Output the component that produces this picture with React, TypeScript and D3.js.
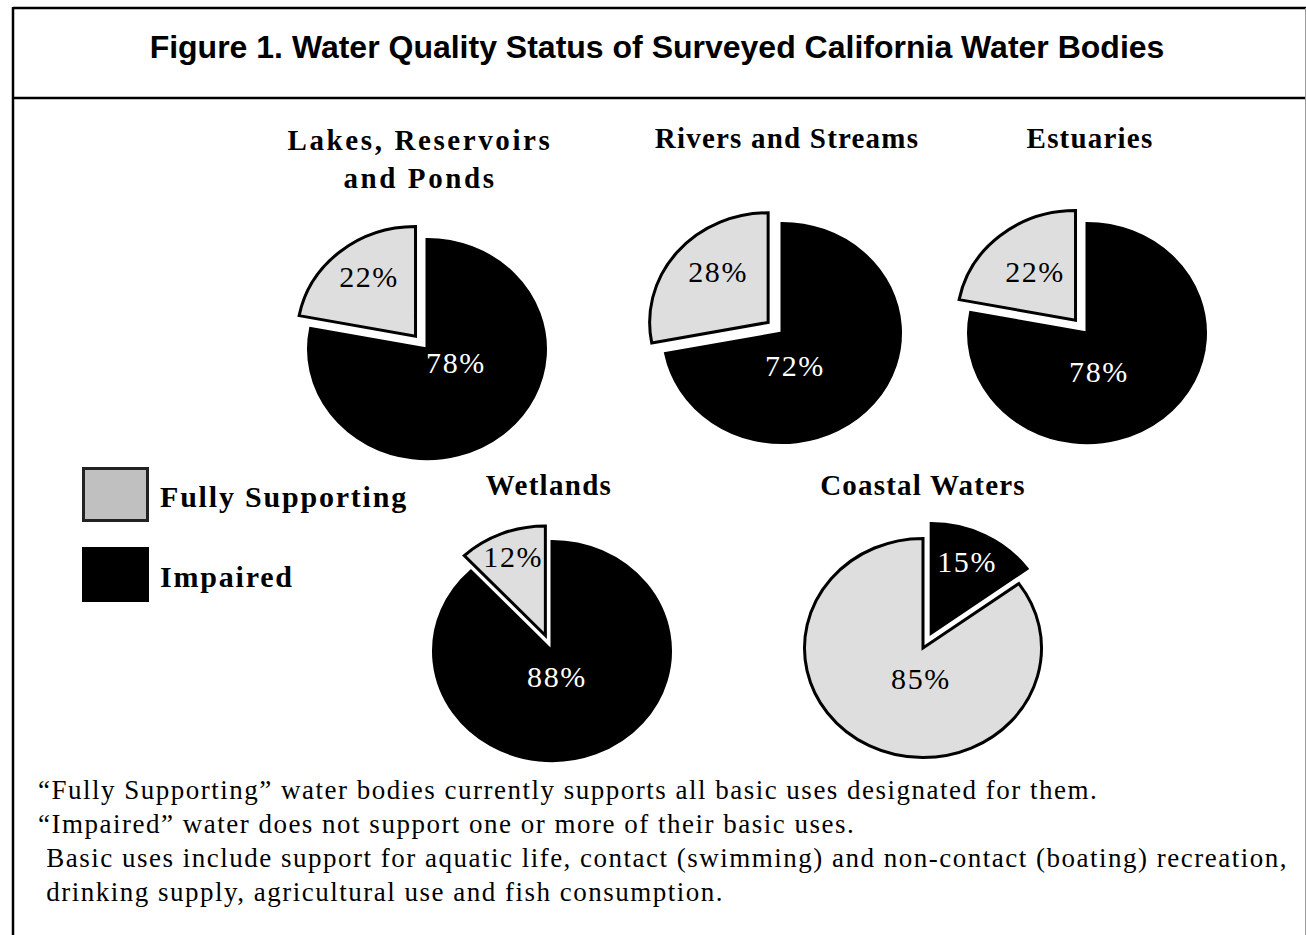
import { useEffect, useRef } from "react";
import * as d3 from "d3";

// Chart data
const bodyTitles = [
  ["Lakes, Reservoirs", "and Ponds"],
  ["Rivers and Streams"],
  ["Estuaries"],
  ["Wetlands"],
  ["Coastal Waters"],
];
const impaired = [78, 72, 78, 88, 15];
const fullySupporting = [22, 28, 22, 12, 85];
const statusNames = ["Impaired", "Fully Supporting"];
const legendOrder = ["Fully Supporting", "Impaired"];
const chartTitle = "Figure 1. Water Quality Status of Surveyed California Water Bodies";
const notes = [
  "\u201CFully Supporting\u201D water bodies currently supports all basic uses designated for them.",
  "\u201CImpaired\u201D water does not support one or more of their basic uses.",
  " Basic uses include support for aquatic life, contact (swimming) and non-contact (boating) recreation,",
  " drinking supply, agricultural use and fish consumption.",
];

// Layout (pie centres, title baselines, label nudges)
const pieLayout = [
  { cx: 427, cy: 349, titleX: 420, titleY: 150, titleLs: 2.6, bigDx: 29, bigDy: 24, smallDx: 4, smallDy: -3 },
  { cx: 782, cy: 333, titleX: 787, titleY: 148, titleLs: 1.2, bigDx: 13, bigDy: 43, smallDx: 11, smallDy: -4 },
  { cx: 1087, cy: 333, titleX: 1090, titleY: 148, titleLs: 1.2, bigDx: 12, bigDy: 49, smallDx: 10, smallDy: 8 },
  { cx: 552, cy: 651, titleX: 549, titleY: 495, titleLs: 1.3, bigDx: 5, bigDy: 36, smallDx: -3, smallDy: -10 },
  { cx: 923, cy: 648, titleX: 923, titleY: 495, titleLs: 1.2, bigDx: -2, bigDy: 41, smallDx: 0, smallDy: -6 },
];

const W = 1306;
const H = 935;
const serif = "'Liberation Serif', 'Times New Roman', serif";

export default function App() {
  const svgRef = useRef<SVGSVGElement>(null);

  useEffect(() => {
    if (!svgRef.current) return;
    const svg = d3.select(svgRef.current);
    svg.selectAll("*").remove();

    const color = d3.scaleOrdinal<string, string>()
      .domain(statusNames)
      .range(["#000000", "#dedede"]);
    const labelColor = d3.scaleOrdinal<string, string>()
      .domain(statusNames)
      .range(["#ffffff", "#000000"]);

    // Frame
    svg.append("line").attr("x1", 13).attr("x2", W).attr("y1", 8).attr("y2", 8)
      .attr("stroke", "#000").attr("stroke-width", 2.5);
    svg.append("line").attr("x1", 13).attr("x2", 13).attr("y1", 7).attr("y2", H)
      .attr("stroke", "#000").attr("stroke-width", 2.5);
    svg.append("line").attr("x1", 13).attr("x2", W).attr("y1", 98).attr("y2", 98)
      .attr("stroke", "#000").attr("stroke-width", 2.5);
    svg.append("line").attr("x1", 1305.5).attr("x2", 1305.5).attr("y1", 8).attr("y2", H)
      .attr("stroke", "#999").attr("stroke-width", 1);

    svg.append("text")
      .attr("x", 657).attr("y", 58)
      .attr("text-anchor", "middle")
      .attr("font-family", "'Liberation Sans', Arial, sans-serif")
      .attr("font-weight", "bold")
      .attr("font-size", 32)
      .text(chartTitle);

    // Pies
    const rx = 120;
    const ry = 111;
    const outerR = rx - 1.5;
    const explode = 18;
    const pie = d3.pie<{ name: string; value: number }>()
      .sort(null)
      .value(d => d.value);
    const arc = d3.arc<d3.PieArcDatum<{ name: string; value: number }>>()
      .innerRadius(0)
      .outerRadius(outerR);

    bodyTitles.forEach((lines, i) => {
      const lay = pieLayout[i];
      const data = [
        { name: statusNames[0], value: impaired[i] },
        { name: statusNames[1], value: fullySupporting[i] },
      ];
      const arcs = pie(data);
      const minVal = d3.min(data, d => d.value)!;

      // Title
      const t = svg.append("text")
        .attr("x", lay.titleX)
        .attr("y", lay.titleY)
        .attr("text-anchor", "middle")
        .attr("font-family", serif)
        .attr("font-weight", "bold")
        .attr("font-size", 29)
        .attr("letter-spacing", lay.titleLs);
      lines.forEach((ln, j) => {
        t.append("tspan").attr("x", lay.titleX).attr("dy", j === 0 ? 0 : 38).text(ln);
      });

      const g = svg.append("g")
        .attr("transform", `translate(${lay.cx},${lay.cy}) scale(1,${ry / rx})`);

      arcs.forEach(a => {
        const mid = (a.startAngle + a.endAngle) / 2;
        const isSmall = a.data.value === minVal;
        const off = isSmall ? explode : 0;
        const ox = Math.sin(mid) * off;
        const oy = -Math.cos(mid) * off;
        g.append("path")
          .attr("transform", `translate(${ox},${oy})`)
          .attr("d", arc(a)!)
          .attr("fill", color(a.data.name))
          .attr("stroke", "#000")
          .attr("stroke-width", 3)
          .attr("stroke-linejoin", "miter")
          .attr("vector-effect", "non-scaling-stroke");
      });

      // Labels (drawn unscaled)
      arcs.forEach(a => {
        const mid = (a.startAngle + a.endAngle) / 2;
        const isSmall = a.data.value === minVal;
        let x: number;
        let y: number;
        if (isSmall) {
          const r = explode + rx * 0.66;
          x = lay.cx + Math.sin(mid) * r + lay.smallDx;
          y = lay.cy - Math.cos(mid) * r * (ry / rx) + 10 + lay.smallDy;
        } else {
          x = lay.cx + lay.bigDx;
          y = lay.cy + lay.bigDy;
        }
        svg.append("text")
          .attr("x", x)
          .attr("y", y)
          .attr("text-anchor", "middle")
          .attr("font-family", serif)
          .attr("font-size", 30)
          .attr("letter-spacing", 1.6)
          .attr("fill", labelColor(a.data.name))
          .text(`${a.data.value}%`);
      });
    });

    // Legend
    const legend = svg.append("g").attr("transform", "translate(82,467)");
    legendOrder.forEach((name, i) => {
      const row = legend.append("g").attr("transform", `translate(0,${i * 80})`);
      row.append("rect")
        .attr("x", 1.5).attr("y", 1.5)
        .attr("width", 64).attr("height", 52)
        .attr("fill", name === "Impaired" ? "#000" : "#c0c0c0")
        .attr("stroke", name === "Impaired" ? "#000" : "#222")
        .attr("stroke-width", 3);
      row.append("text")
        .attr("x", 78).attr("y", 40)
        .attr("font-family", serif)
        .attr("font-weight", "bold")
        .attr("font-size", 30)
        .attr("letter-spacing", 1.8)
        .text(name);
    });

    // Notes
    notes.forEach((n, i) => {
      svg.append("text")
        .attr("x", 38)
        .attr("y", 799 + i * 34)
        .attr("font-family", serif)
        .attr("font-size", 27)
        .attr("letter-spacing", 1.5)
        .attr("xml:space", "preserve")
        .style("white-space", "pre")
        .text(n);
    });
  }, []);

  return (
    <svg
      ref={svgRef}
      width={W}
      height={H}
      style={{ position: "absolute", left: 0, top: 0, background: "#fff" }}
    />
  );
}
